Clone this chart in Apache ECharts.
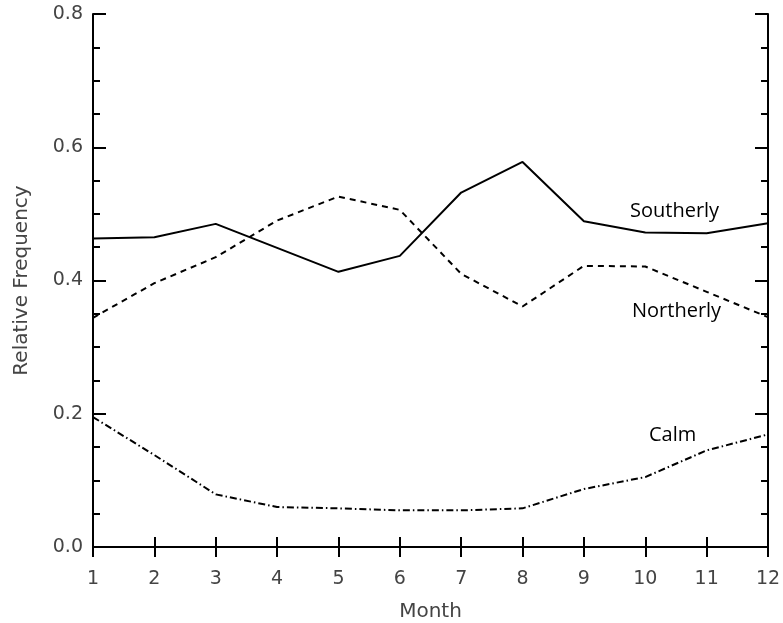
<!DOCTYPE html>
<html><head><meta charset="utf-8">
<script src="https://cdn.jsdelivr.net/npm/echarts@6/dist/echarts.min.js"></script>
<style>html,body{margin:0;padding:0;background:#fff}#c{width:783px;height:623px}</style>
</head><body><div id="c"></div>
<script>
const months = [1,2,3,4,5,6,7,8,9,10,11,12];
const southerly = [0.463,0.465,0.485,0.449,0.413,0.437,0.532,0.578,0.489,0.472,0.471,0.486];
const northerly = [0.344,0.396,0.435,0.490,0.526,0.506,0.410,0.361,0.422,0.421,0.383,0.345];
const calm = [0.195,0.138,0.079,0.060,0.058,0.055,0.055,0.058,0.087,0.105,0.145,0.169];
const yTicks = [0.0,0.2,0.4,0.6,0.8];
const seriesNames = ['Southerly','Northerly','Calm'];

const chart = echarts.init(document.getElementById('c'), null, {renderer:'canvas'});
const axisLine = {show:true, lineStyle:{color:'#000', width:2}};
const tickFont = {fontFamily:'"DejaVu Sans", sans-serif', fontSize:19, color:'#444'};
const nameFont = {fontFamily:'"DejaVu Sans", sans-serif', fontSize:20, color:'#444'};
const annFont = '20px "Open Sans", sans-serif';
function pairs(v){ return months.map((m,i)=>[m,v[i]]); }
chart.setOption({
  animation:false,
  grid:{left:93, right:15, top:14, bottom:76, outerBoundsMode:'none', containLabel:false},
  xAxis:[{
    type:'value', min:1, max:12, interval:1, position:'bottom',
    name:'Month', nameLocation:'middle', nameGap:55,
    nameTextStyle:nameFont,
    axisLine:axisLine,
    axisTick:{show:true, inside:true, length:10, lineStyle:{color:'#000', width:2}},
    axisLabel:Object.assign({margin:23}, tickFont),
    splitLine:{show:false}
  },{
    type:'value', min:1, max:12, interval:1, position:'top',
    axisLine:axisLine,
    axisTick:{show:true, inside:true, length:10, lineStyle:{color:'#000', width:2}},
    axisLabel:{show:false}, splitLine:{show:false}
  }],
  yAxis:[{
    type:'value', min:0, max:0.8, interval:0.2, position:'left',
    name:'Relative Frequency', nameLocation:'middle', nameGap:61, nameRotate:90,
    nameTextStyle:nameFont,
    axisLine:axisLine,
    axisTick:{show:true, inside:true, length:13, lineStyle:{color:'#000', width:2}},
    minorTick:{show:true, splitNumber:4, length:7, lineStyle:{color:'#000', width:2}},
    axisLabel:Object.assign({margin:10, formatter:v=>v.toFixed(1)}, tickFont),
    splitLine:{show:false}
  },{
    type:'value', min:0, max:0.8, interval:0.2, position:'right',
    axisLine:axisLine,
    axisTick:{show:true, inside:true, length:13, lineStyle:{color:'#000', width:2}},
    minorTick:{show:true, splitNumber:4, length:7, lineStyle:{color:'#000', width:2}},
    axisLabel:{show:false}, splitLine:{show:false}
  }],
  series:[
    {name:seriesNames[0], type:'line', data:pairs(southerly), showSymbol:false, symbol:'none',
     lineStyle:{color:'#000', width:2, type:'solid'}},
    {name:seriesNames[1], type:'line', data:pairs(northerly), showSymbol:false, symbol:'none',
     lineStyle:{color:'#000', width:2, type:[6,5]}},
    {name:seriesNames[2], type:'line', data:pairs(calm), showSymbol:false, symbol:'none',
     lineStyle:{color:'#000', width:2, type:[7,3,1.5,3]}}
  ],
  graphic:[
    {type:'text', x:630, y:211, style:{text:seriesNames[0], fill:'#000', font:annFont, verticalAlign:'middle'}},
    {type:'text', x:632, y:311, style:{text:seriesNames[1], fill:'#000', font:annFont, verticalAlign:'middle'}},
    {type:'text', x:649, y:435, style:{text:seriesNames[2], fill:'#000', font:annFont, verticalAlign:'middle'}}
  ]
});
</script></body></html>
